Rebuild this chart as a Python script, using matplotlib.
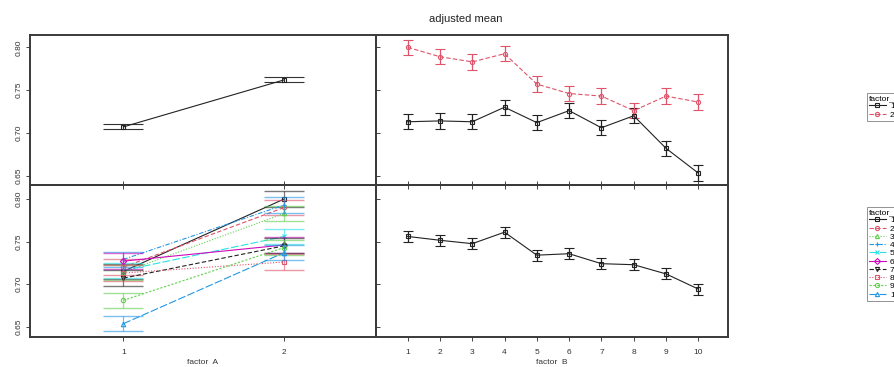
import matplotlib
matplotlib.use("Agg")
import matplotlib.pyplot as plt
from matplotlib.lines import Line2D

# === Data ===
A_LEVELS = [1, 2]
B_LEVELS = [1, 2, 3, 4, 5, 6, 7, 8, 9, 10]

# main effect of factor A
a_mean = [0.707, 0.762]
a_err = [0.003, 0.003]

# factor B by factor A (two groups)
b_mean_a1 = [0.713, 0.714, 0.713, 0.730, 0.712, 0.726, 0.706, 0.720, 0.682, 0.653]
b_mean_a2 = [0.800, 0.789, 0.783, 0.7925, 0.757, 0.746, 0.743, 0.726, 0.743, 0.736]
ab_err = 0.009

# main effect of factor B
b_mean = [0.756, 0.7515, 0.7475, 0.761, 0.734, 0.7357, 0.724, 0.7228, 0.712, 0.6942]
b_err = 0.0065

# factor A by factor B (ten groups): value at A=1, value at A=2
ba_mean_a1 = [0.715, 0.720, 0.714, 0.729, 0.716, 0.727, 0.707, 0.713, 0.681, 0.6535]
ba_mean_a2 = [0.800, 0.790, 0.783, 0.793, 0.756, 0.746, 0.745, 0.726, 0.743, 0.737]
ba_err = 0.009

# R palette recycled over the groups
PALETTE = ["#222222", "#DF536B", "#61D04F", "#2297E6", "#28E2E5", "#CD0BBC"]
MARKERS = ["s", "o", "^", "+", "x", "D", "v"]
STYLES = ["-", (0, (4, 2)), (0, (1, 1.5)), (0, (4, 1.5, 1, 1.5)), (0, (7, 2)),
          "-", (0, (4, 2)), (0, (1, 1.5)), (0, (2, 1.5)), (0, (7, 2))]

FONT = "Liberation Sans"
plt.rcParams["font.family"] = [FONT, "DejaVu Sans"]
EDGE = "#3a3a3a"

W, H = 894, 367
fig = plt.figure(figsize=(W / 100, H / 100), dpi=100)


def px_axes(x0, y0, x1, y1):
    ax = fig.add_axes([x0 / W, 1 - y1 / H, (x1 - x0) / W, (y1 - y0) / H])
    ax.set_facecolor("none")
    for sp in ax.spines.values():
        sp.set_color(EDGE)
        sp.set_linewidth(1.4)
    ax.tick_params(length=3, width=0.7, color="#444444", labelsize=6,
                   labelcolor="#333333")
    return ax


ax_tl = px_axes(30, 35, 376, 185)
ax_tr = px_axes(376, 35, 728, 185)
ax_bl = px_axes(30, 185, 376, 337)
ax_br = px_axes(376, 185, 728, 337)

YT = [0.65, 0.70, 0.75, 0.80]
for ax in (ax_tl, ax_tr):
    ax.set_ylim(0.6391, 0.8144)
for ax in (ax_bl, ax_br):
    ax.set_ylim(0.6379, 0.8164)
for ax in (ax_tl, ax_bl):
    ax.set_xlim(0.42, 2.57)
    ax.set_xticks(A_LEVELS)
    ax.set_xticklabels([str(v) for v in A_LEVELS])
for ax in (ax_tr, ax_br):
    ax.set_xlim(0.02, 10.92)
    ax.set_xticks(B_LEVELS)
    ax.set_xticklabels([str(v) for v in B_LEVELS])

for ax in (ax_tl, ax_tr, ax_bl, ax_br):
    ax.set_yticks(YT)
    ax.set_yticklabels([f"{v:.2f}" for v in YT])

# ticks crossing the dividers, labels only on the outer sides
for ax in (ax_tl, ax_bl):
    ax.tick_params(axis="y", left=True, right=True, labelleft=True, labelright=False, pad=2)
    for lab in ax.get_yticklabels():
        lab.set_rotation(90)
        lab.set_va("center")
for ax in (ax_tr, ax_br):
    ax.tick_params(axis="y", left=False, right=False, labelleft=False, labelright=False)
for ax in (ax_tl, ax_tr):
    ax.tick_params(axis="x", bottom=True, top=False, labelbottom=False)
for ax in (ax_bl, ax_br):
    ax.tick_params(axis="x", bottom=True, top=True, labelbottom=True, labeltop=False, pad=6)

# top-left: factor A
ax_tl.errorbar(A_LEVELS, a_mean, yerr=a_err, color="#222222", lw=0.8,
               marker="s", ms=3, mfc="none", mew=0.8,
               ecolor="#333333", elinewidth=0.8, capsize=14.4, capthick=0.9)

# top-right: factor B within factor A groups
for vals, col, ls, mk in [(b_mean_a1, PALETTE[0], STYLES[0], MARKERS[0]),
                          (b_mean_a2, PALETTE[1], STYLES[1], MARKERS[1])]:
    ax_tr.errorbar(B_LEVELS, vals, yerr=ab_err, color=col, ls=ls, lw=0.8,
                   marker=mk, ms=3, mfc="none", mew=0.8,
                   ecolor=col, elinewidth=0.9, capsize=3.3, capthick=0.9)

# bottom-left: factor A within factor B groups
for i in range(len(B_LEVELS)):
    col = PALETTE[i % len(PALETTE)]
    mk = MARKERS[i % len(MARKERS)]
    vals = [ba_mean_a1[i], ba_mean_a2[i]]
    ax_bl.errorbar(A_LEVELS, vals, yerr=ba_err, color=col, ls="none",
                   ecolor=col, elinewidth=0.9, capsize=14.4, capthick=1.0,
                   alpha=0.6)
    ax_bl.plot(A_LEVELS, vals, color=col, ls=STYLES[i], lw=0.8,
               marker=mk, ms=3.2, mfc="none", mew=0.8)

# bottom-right: factor B
ax_br.errorbar(B_LEVELS, b_mean, yerr=b_err, color="#222222", lw=0.8,
               marker="s", ms=3, mfc="none", mew=0.8,
               ecolor="#222222", elinewidth=0.9, capsize=3.3, capthick=0.9)

# titles and axis labels
fig.text(466 / W, 1 - 19 / H, "adjusted mean", ha="center", va="center",
         fontsize=8, color="#222222")
fig.text(203 / W, 1 - 363 / H, "factor  A", ha="center", va="center",
         fontsize=6, color="#333333")
fig.text(552 / W, 1 - 363 / H, "factor  B", ha="center", va="center",
         fontsize=6, color="#333333")


def group_legend(title, n, top_px):
    handles = []
    for i in range(n):
        col = PALETTE[i % len(PALETTE)]
        handles.append(Line2D([], [], color=col, ls=STYLES[i], lw=0.8,
                              marker=MARKERS[i % len(MARKERS)], ms=3,
                              mfc="none", mew=0.8))
    leg = fig.legend(handles, [str(i + 1) for i in range(n)], title=title,
                     loc="upper left", bbox_to_anchor=(867 / W, 1 - top_px / H),
                     fontsize=6, title_fontsize=6, frameon=True, fancybox=False,
                     borderaxespad=0, borderpad=0.25, handlelength=2.0,
                     handletextpad=0.5, labelspacing=0.05, alignment="left")
    leg.get_frame().set_edgecolor("#777777")
    leg.get_frame().set_linewidth(0.7)
    return leg


group_legend("factor_", 2, 93)
group_legend("factor_", 10, 207)

fig.savefig("out.png", dpi=100)
